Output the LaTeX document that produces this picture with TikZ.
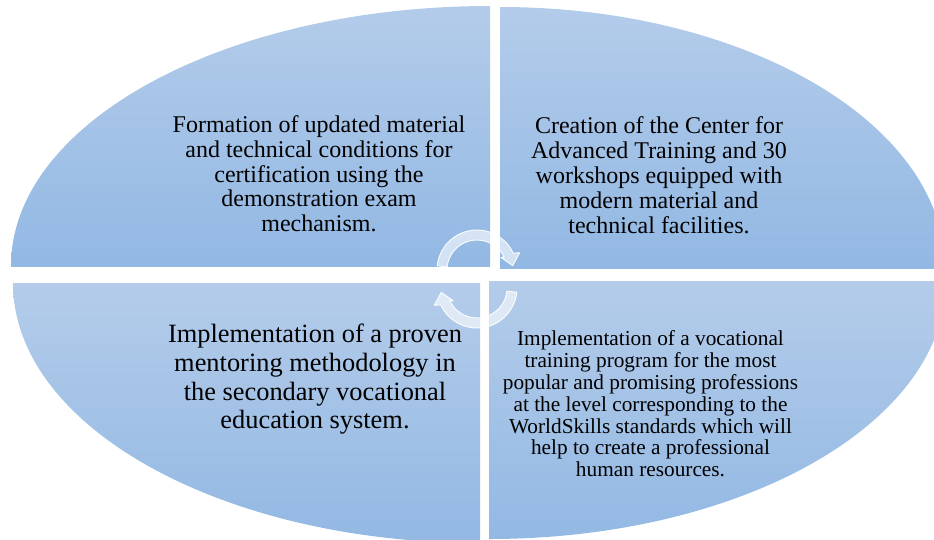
\documentclass[tikz,border=0pt]{standalone}
\usepackage{fontspec}
\setmainfont{Liberation Serif}
\definecolor{qtop}{RGB}{180,204,234}
\definecolor{qbot}{RGB}{146,184,227}
\tikzset{
  quadshade/.style={top color=qtop, bottom color=qbot, draw=none},
  cyclearrow/.style={fill=white, fill opacity=0.6, draw=white, draw opacity=0.95, line width=0.9pt, line join=round},
  qtext/.style={align=center, inner sep=0pt, anchor=north, text=black},
}
\begin{document}
\begin{tikzpicture}[x=1pt,y=-1pt]
\useasboundingbox (0,0) rectangle (934,539);
\begin{scope}
\clip (0,0) rectangle (934,539);
% top-left quadrant
\begin{scope}
\clip (490,266) ellipse [x radius=479pt, y radius=260pt];
\shade[quadshade] (0,4) rectangle (490,266);
\end{scope}
% top-right quadrant
\begin{scope}
\clip (500,268) ellipse [x radius=445pt, y radius=261pt];
\shade[quadshade] (500,6) rectangle (960,268);
\end{scope}
% bottom-left quadrant
\begin{scope}
\clip (480,283) ellipse [x radius=467pt, y radius=260pt];
\shade[quadshade] (0,283) rectangle (480,545);
\end{scope}
% bottom-right quadrant
\begin{scope}
\clip (489,281) ellipse [x radius=457pt, y radius=258pt];
\shade[quadshade] (489,281) rectangle (960,545);
\end{scope}
% cycle arrows
\begin{scope}[shift={(477,270)}]
\draw[cyclearrow] (174:40pt) arc[start angle=174, end angle=25, radius=40pt]
  -- (22:46pt) -- (7:36pt) -- (28:27pt) -- (25:30pt)
  arc[start angle=25, end angle=174, radius=30pt] -- cycle;
\end{scope}
\begin{scope}[shift={(477,288)}, rotate=180]
\draw[cyclearrow] (174:40pt) arc[start angle=174, end angle=25, radius=40pt]
  -- (22:46pt) -- (7:36pt) -- (28:27pt) -- (25:30pt)
  arc[start angle=25, end angle=174, radius=30pt] -- cycle;
\end{scope}
\end{scope}
% texts
\node[qtext, font=\fontsize{24}{24.75}\selectfont] (tl) at (319,115.6)
  {Formation of updated material\\and technical conditions for\\certification using the\\demonstration exam\\mechanism.};
\node[qtext, font=\fontsize{24}{25}\selectfont] (tr) at (659,116.6)
  {Creation of the Center for\\Advanced Training and 30\\workshops equipped with\\modern material and\\technical facilities.};
\node[qtext, font=\fontsize{26.4}{28.67}\selectfont] (bl) at (315,324)
  {Implementation of a proven\\mentoring methodology in\\the secondary vocational\\education system.};
\node[qtext, font=\fontsize{21.3}{21.83}\selectfont] (br) at (650.5,330.5)
  {Implementation of a vocational\\training program for the most\\popular and promising professions\\at the level corresponding to the\\WorldSkills standards which will\\help to create a professional\\human resources.};
\end{tikzpicture}
\end{document}
